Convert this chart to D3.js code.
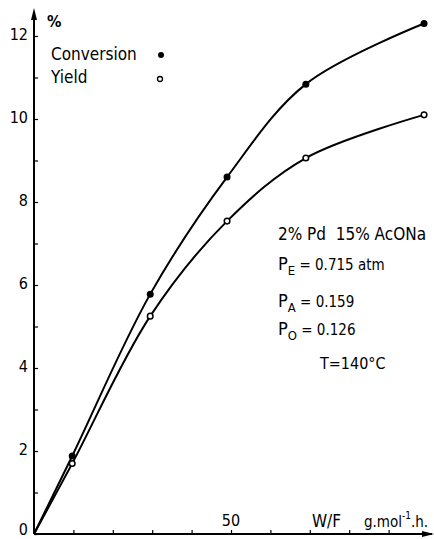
<!DOCTYPE html>
<html>
<head>
<meta charset="utf-8">
<script src="https://cdn.jsdelivr.net/npm/d3@7"></script>
<style>
  body { margin: 0; background: #fff; }
  svg text { font-family: "DejaVu Sans Condensed", "Liberation Sans Narrow", sans-serif; fill: #000; white-space: pre; }
</style>
</head>
<body>
<div id="chart"></div>
<script>
// W/F (g.mol-1.h) and percentages
const wf = [0, 9.7, 29.5, 49, 69, 99];
const conversion = [0, 1.88, 5.78, 8.6, 10.84, 12.3];
const yieldPct = [0, 1.7, 5.25, 7.54, 9.06, 10.1];
const yTickLabels = [0, 2, 4, 6, 8, 10, 12];
const xTickLabels = [50];
const notes = ["2% Pd  15% AcONa"];

const width = 434, height = 539;
const svg = d3.select("#chart").append("svg")
  .attr("width", width)
  .attr("height", height);

const x = d3.scaleLinear().domain([0, 100]).range([34, 428]);
const y = d3.scaleLinear().domain([0, 12]).range([534, 36]);

// axes: ticks inward, arrows at ends
const axis = svg.append("g").attr("stroke", "#000").attr("stroke-width", 2);
axis.append("line").attr("x1", x(0)).attr("x2", 432).attr("y1", y(0)).attr("y2", y(0));
axis.append("line").attr("x1", x(0)).attr("x2", x(0)).attr("y1", y(0)).attr("y2", 12);
svg.append("path").attr("d", `M${x(0)},8 L${x(0) - 3},20 L${x(0) + 3},20 Z`).attr("fill", "#000");
svg.append("path").attr("d", `M434,${y(0)} L422,${y(0) - 3} L422,${y(0) + 3} Z`).attr("fill", "#000");

const yAxis = d3.axisRight(y).ticks(12).tickSize(4).tickFormat("");
svg.append("g").attr("transform", `translate(${x(0)},0)`).call(yAxis)
  .call(g => g.select(".domain").remove())
  .selectAll("line").attr("stroke-width", 1.2);

const xAxis = d3.axisTop(x).tickValues(d3.range(10, 100, 10)).tickSize(4).tickFormat("");
svg.append("g").attr("transform", `translate(0,${y(0)})`).call(xAxis)
  .call(g => g.select(".domain").remove())
  .selectAll("line").attr("stroke-width", 1.2);

svg.append("g").selectAll("text").data(yTickLabels).join("text")
  .attr("x", 28).attr("y", d => Math.min(y(d) + 4, 535))
  .attr("text-anchor", "end")
  .style("font-size", "16px")
  .text(d => d);

svg.append("g").selectAll("text").data(xTickLabels).join("text")
  .attr("x", d => x(d)).attr("y", 526)
  .attr("text-anchor", "middle")
  .style("font-size", "16px")
  .text(d => d);

// axis titles
svg.append("text").attr("x", 47).attr("y", 27).style("font-size", "16px").style("font-weight", "bold").text("%");
svg.append("text").attr("x", 312).attr("y", 527).style("font-size", "17px").text("W/F");
const unit = svg.append("text").attr("x", 364).attr("y", 527).style("font-size", "15px");
unit.append("tspan").text("g.mol");
unit.append("tspan").attr("dy", -8).style("font-size", "10px").text("-1");
unit.append("tspan").attr("dy", 8).text(".h.");

// curves
const line = d3.line().x(d => x(d[0])).y(d => y(d[1])).curve(d3.curveCatmullRom.alpha(0.5));
svg.append("path").datum(d3.zip(wf, conversion))
  .attr("d", line).attr("fill", "none").attr("stroke", "#000").attr("stroke-width", 2);
svg.append("path").datum(d3.zip(wf, yieldPct))
  .attr("d", line).attr("fill", "none").attr("stroke", "#000").attr("stroke-width", 2);

// points (skip the origin)
svg.append("g").selectAll("circle").data(d3.zip(wf, conversion).slice(1)).join("circle")
  .attr("cx", d => x(d[0])).attr("cy", d => y(d[1])).attr("r", 3.5).attr("fill", "#000");
svg.append("g").selectAll("circle").data(d3.zip(wf, yieldPct).slice(1)).join("circle")
  .attr("cx", d => x(d[0])).attr("cy", d => y(d[1])).attr("r", 2.8)
  .attr("fill", "#fff").attr("stroke", "#000").attr("stroke-width", 1.5);

// legend
svg.append("text").attr("x", 51).attr("y", 60).style("font-size", "17px").text("Conversion");
svg.append("circle").attr("cx", 161).attr("cy", 55).attr("r", 3).attr("fill", "#000");
svg.append("text").attr("x", 51).attr("y", 83).style("font-size", "17px").text("Yield");
svg.append("circle").attr("cx", 160).attr("cy", 79).attr("r", 2.5).attr("fill", "#fff").attr("stroke", "#000").attr("stroke-width", 1.3);

// conditions
svg.append("text").attr("x", 278).attr("y", 240).style("font-size", "17px").text(notes[0]);
function pLine(yy, sub, val) {
  const t = svg.append("text").attr("x", 278).attr("y", yy).style("font-size", "18px");
  t.append("tspan").text("P");
  t.append("tspan").attr("dy", 5).style("font-size", "13px").text(sub);
  t.append("tspan").attr("dy", -5).style("font-size", "15px").text(" = " + val);
}
pLine(270, "E", "0.715 atm");
pLine(307, "A", "0.159");
pLine(335, "O", "0.126");
svg.append("text").attr("x", 320).attr("y", 369).style("font-size", "16px").text("T=140°C");
</script>
</body>
</html>
